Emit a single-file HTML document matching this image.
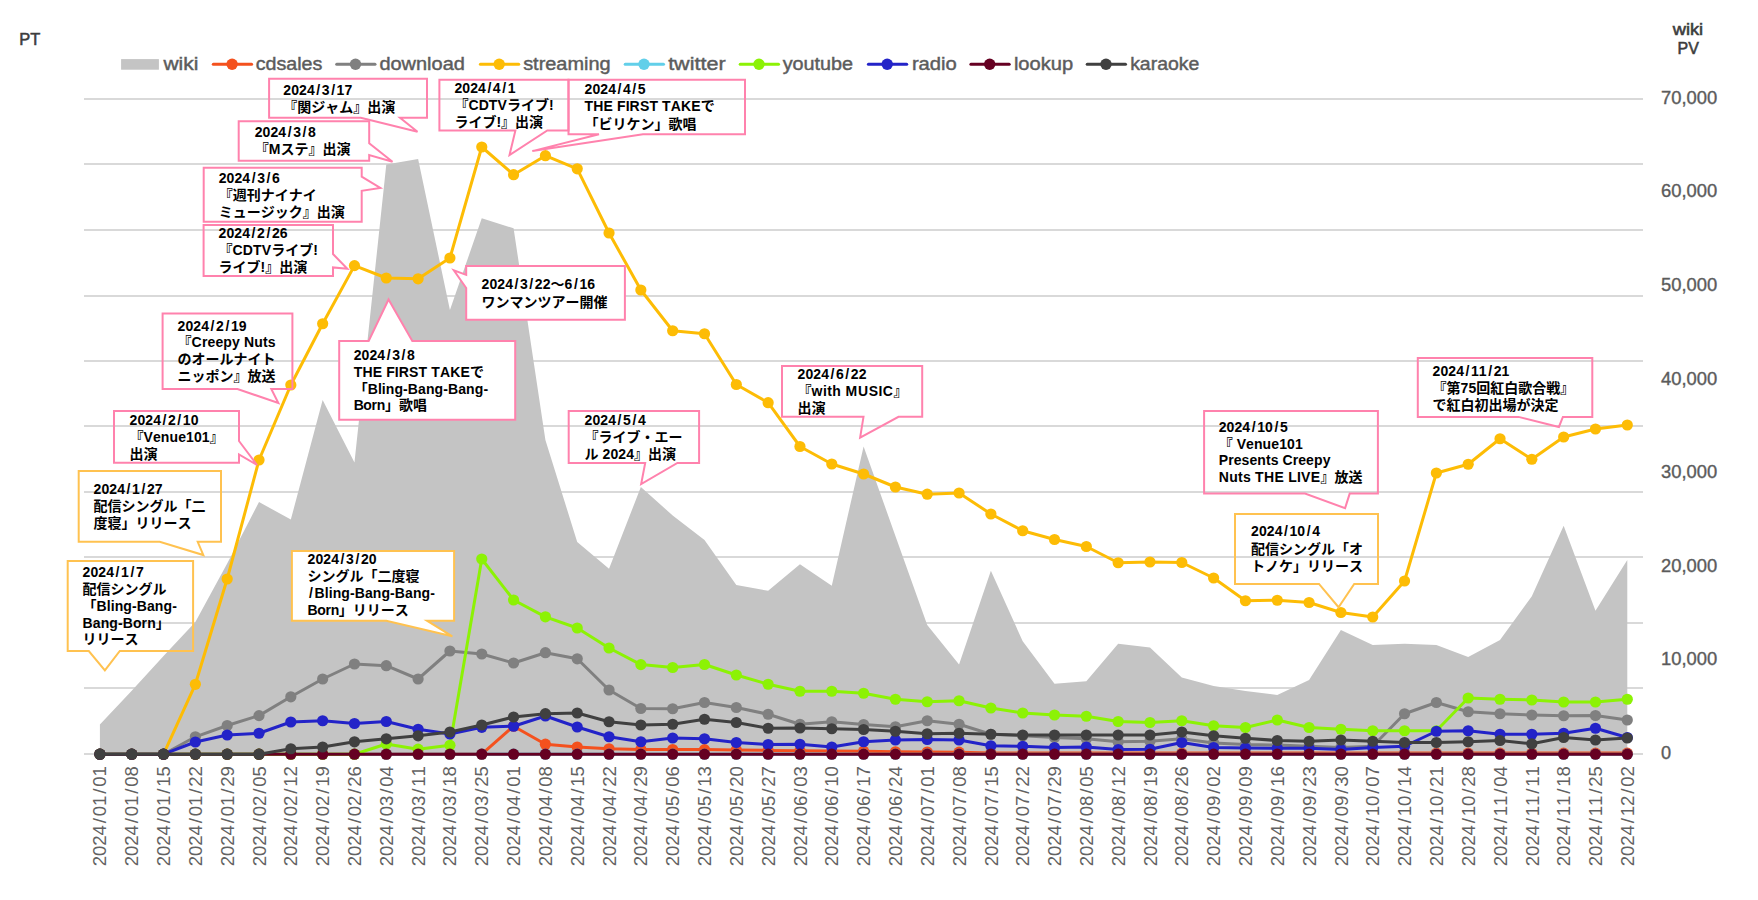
<!DOCTYPE html>
<html lang="ja"><head><meta charset="utf-8"><title>chart</title>
<style>html,body{margin:0;padding:0;background:#fff}body{width:1758px;height:900px;overflow:hidden}svg{display:block}
.lg,.ax,.xl{font-family:"Liberation Sans","Noto Sans CJK JP",sans-serif;fill:#5c5c5c}
.lg text{stroke:#5c5c5c;stroke-width:0.45px}.ax text{stroke:#595959;stroke-width:0.35px}
.cb{font-family:"Liberation Sans","Noto Sans CJK JP",sans-serif;font-weight:bold;font-size:14px;fill:#000}
</style></head><body>
<svg width="1758" height="900" viewBox="0 0 1758 900">
<rect width="1758" height="900" fill="#fff"/>
<g fill="#d9d9d9">
<rect x="84" y="98" width="1559" height="2"/>
<rect x="84" y="163" width="1559" height="2"/>
<rect x="84" y="229" width="1559" height="2"/>
<rect x="84" y="295" width="1559" height="2"/>
<rect x="84" y="360" width="1559" height="2"/>
<rect x="84" y="425" width="1559" height="2"/>
<rect x="84" y="491" width="1559" height="2"/>
<rect x="84" y="556" width="1559" height="2"/>
<rect x="84" y="622" width="1559" height="2"/>
<rect x="84" y="687" width="1559" height="2"/>
<rect x="84" y="753" width="1559" height="2"/>
</g>
<polygon fill="#c4c4c4" points="99.91,754.2 99.91,724.6 131.73,690.8 163.55,656 195.37,622 227.19,563.5 259.01,502 290.83,519.6 322.65,400 354.47,462.5 386.29,164.6 418.11,159.1 449.93,310 481.76,218.3 513.58,228.3 545.4,440 577.22,542 609.04,568.75 640.86,487 672.68,515.5 704.5,540 736.32,585 768.14,590.75 799.96,564.25 831.78,585.75 863.6,446.4 895.42,536 927.24,625 959.06,664.5 990.88,570.75 1022.7,641.25 1054.52,683.75 1086.34,681.25 1118.16,643.75 1149.98,647.5 1181.8,677.5 1213.62,686 1245.44,691 1277.27,695 1309.09,680 1340.91,630 1372.73,645 1404.55,643.75 1436.37,645 1468.19,657 1500.01,640 1531.83,596.25 1563.65,525.75 1595.47,610.75 1627.29,560 1627.29,754.2"/>
<g fill="#f4511e" stroke="none">
<polyline fill="none" stroke="#f4511e" stroke-width="3" stroke-linejoin="round" stroke-linecap="round" points="99.91,754.2 131.73,754.2 163.55,754.2 195.37,754.2 227.19,754.2 259.01,754.2 290.83,754.2 322.65,754.2 354.47,754.2 386.29,754.2 418.11,754.2 449.93,754.2 481.76,754.2 513.58,726.2 545.4,744.2 577.22,747 609.04,748.75 640.86,749.5 672.68,749.5 704.5,749.6 736.32,750 768.14,750.4 799.96,750.7 831.78,750.9 863.6,751.2 895.42,751.8 927.24,752 959.06,752.2 990.88,753.1 1022.7,753.1 1054.52,753.1 1086.34,753.1 1118.16,753.1 1149.98,753.1 1181.8,753.1 1213.62,753.1 1245.44,753.1 1277.27,753.1 1309.09,753.1 1340.91,753.1 1372.73,753.1 1404.55,753.1 1436.37,753.1 1468.19,753.1 1500.01,753.1 1531.83,753.1 1563.65,753.1 1595.47,753.1 1627.29,753.1"/>
<circle cx="99.91" cy="754.2" r="5.6"/><circle cx="131.73" cy="754.2" r="5.6"/><circle cx="163.55" cy="754.2" r="5.6"/><circle cx="195.37" cy="754.2" r="5.6"/><circle cx="227.19" cy="754.2" r="5.6"/><circle cx="259.01" cy="754.2" r="5.6"/><circle cx="290.83" cy="754.2" r="5.6"/><circle cx="322.65" cy="754.2" r="5.6"/><circle cx="354.47" cy="754.2" r="5.6"/><circle cx="386.29" cy="754.2" r="5.6"/><circle cx="418.11" cy="754.2" r="5.6"/><circle cx="449.93" cy="754.2" r="5.6"/><circle cx="481.76" cy="754.2" r="5.6"/><circle cx="513.58" cy="726.2" r="5.6"/><circle cx="545.4" cy="744.2" r="5.6"/><circle cx="577.22" cy="747" r="5.6"/><circle cx="609.04" cy="748.75" r="5.6"/><circle cx="640.86" cy="749.5" r="5.6"/><circle cx="672.68" cy="749.5" r="5.6"/><circle cx="704.5" cy="749.6" r="5.6"/><circle cx="736.32" cy="750" r="5.6"/><circle cx="768.14" cy="750.4" r="5.6"/><circle cx="799.96" cy="750.7" r="5.6"/><circle cx="831.78" cy="750.9" r="5.6"/><circle cx="863.6" cy="751.2" r="5.6"/><circle cx="895.42" cy="751.8" r="5.6"/><circle cx="927.24" cy="752" r="5.6"/><circle cx="959.06" cy="752.2" r="5.6"/><circle cx="990.88" cy="753.1" r="5.6"/><circle cx="1022.7" cy="753.1" r="5.6"/><circle cx="1054.52" cy="753.1" r="5.6"/><circle cx="1086.34" cy="753.1" r="5.6"/><circle cx="1118.16" cy="753.1" r="5.6"/><circle cx="1149.98" cy="753.1" r="5.6"/><circle cx="1181.8" cy="753.1" r="5.6"/><circle cx="1213.62" cy="753.1" r="5.6"/><circle cx="1245.44" cy="753.1" r="5.6"/><circle cx="1277.27" cy="753.1" r="5.6"/><circle cx="1309.09" cy="753.1" r="5.6"/><circle cx="1340.91" cy="753.1" r="5.6"/><circle cx="1372.73" cy="753.1" r="5.6"/><circle cx="1404.55" cy="753.1" r="5.6"/><circle cx="1436.37" cy="753.1" r="5.6"/><circle cx="1468.19" cy="753.1" r="5.6"/><circle cx="1500.01" cy="753.1" r="5.6"/><circle cx="1531.83" cy="753.1" r="5.6"/><circle cx="1563.65" cy="753.1" r="5.6"/><circle cx="1595.47" cy="753.1" r="5.6"/><circle cx="1627.29" cy="753.1" r="5.6"/>
</g>
<g fill="#808080" stroke="none">
<polyline fill="none" stroke="#808080" stroke-width="3" stroke-linejoin="round" stroke-linecap="round" points="99.91,754.2 131.73,754.2 163.55,754.2 195.37,736.8 227.19,725.5 259.01,715.6 290.83,696.8 322.65,679 354.47,664 386.29,665.7 418.11,679 449.93,651 481.76,654 513.58,663 545.4,652.7 577.22,658.8 609.04,690 640.86,708.5 672.68,708.75 704.5,702.5 736.32,707.5 768.14,714.25 799.96,724.25 831.78,721.75 863.6,724.5 895.42,726.75 927.24,720.75 959.06,724.25 990.88,734.25 1022.7,735.75 1054.52,737.5 1086.34,738.75 1118.16,741.75 1149.98,741.25 1181.8,738.75 1213.62,743 1245.44,744.5 1277.27,745 1309.09,746.25 1340.91,747.5 1372.73,746.25 1404.55,713.75 1436.37,702.5 1468.19,711.75 1500.01,713.75 1531.83,715 1563.65,715.75 1595.47,715.5 1627.29,720"/>
<circle cx="99.91" cy="754.2" r="5.6"/><circle cx="131.73" cy="754.2" r="5.6"/><circle cx="163.55" cy="754.2" r="5.6"/><circle cx="195.37" cy="736.8" r="5.6"/><circle cx="227.19" cy="725.5" r="5.6"/><circle cx="259.01" cy="715.6" r="5.6"/><circle cx="290.83" cy="696.8" r="5.6"/><circle cx="322.65" cy="679" r="5.6"/><circle cx="354.47" cy="664" r="5.6"/><circle cx="386.29" cy="665.7" r="5.6"/><circle cx="418.11" cy="679" r="5.6"/><circle cx="449.93" cy="651" r="5.6"/><circle cx="481.76" cy="654" r="5.6"/><circle cx="513.58" cy="663" r="5.6"/><circle cx="545.4" cy="652.7" r="5.6"/><circle cx="577.22" cy="658.8" r="5.6"/><circle cx="609.04" cy="690" r="5.6"/><circle cx="640.86" cy="708.5" r="5.6"/><circle cx="672.68" cy="708.75" r="5.6"/><circle cx="704.5" cy="702.5" r="5.6"/><circle cx="736.32" cy="707.5" r="5.6"/><circle cx="768.14" cy="714.25" r="5.6"/><circle cx="799.96" cy="724.25" r="5.6"/><circle cx="831.78" cy="721.75" r="5.6"/><circle cx="863.6" cy="724.5" r="5.6"/><circle cx="895.42" cy="726.75" r="5.6"/><circle cx="927.24" cy="720.75" r="5.6"/><circle cx="959.06" cy="724.25" r="5.6"/><circle cx="990.88" cy="734.25" r="5.6"/><circle cx="1022.7" cy="735.75" r="5.6"/><circle cx="1054.52" cy="737.5" r="5.6"/><circle cx="1086.34" cy="738.75" r="5.6"/><circle cx="1118.16" cy="741.75" r="5.6"/><circle cx="1149.98" cy="741.25" r="5.6"/><circle cx="1181.8" cy="738.75" r="5.6"/><circle cx="1213.62" cy="743" r="5.6"/><circle cx="1245.44" cy="744.5" r="5.6"/><circle cx="1277.27" cy="745" r="5.6"/><circle cx="1309.09" cy="746.25" r="5.6"/><circle cx="1340.91" cy="747.5" r="5.6"/><circle cx="1372.73" cy="746.25" r="5.6"/><circle cx="1404.55" cy="713.75" r="5.6"/><circle cx="1436.37" cy="702.5" r="5.6"/><circle cx="1468.19" cy="711.75" r="5.6"/><circle cx="1500.01" cy="713.75" r="5.6"/><circle cx="1531.83" cy="715" r="5.6"/><circle cx="1563.65" cy="715.75" r="5.6"/><circle cx="1595.47" cy="715.5" r="5.6"/><circle cx="1627.29" cy="720" r="5.6"/>
</g>
<g fill="#fdbc05" stroke="none">
<polyline fill="none" stroke="#fdbc05" stroke-width="3" stroke-linejoin="round" stroke-linecap="round" points="99.91,754.2 131.73,754.2 163.55,754.2 195.37,684.3 227.19,579 259.01,460 290.83,385 322.65,323.75 354.47,265.6 386.29,278 418.11,278.8 449.93,258 481.76,147 513.58,174.7 545.4,155.7 577.22,168.8 609.04,233 640.86,290 672.68,330.75 704.5,333.75 736.32,384.5 768.14,402.7 799.96,446.5 831.78,464 863.6,474 895.42,487 927.24,494.2 959.06,493 990.88,514 1022.7,530.75 1054.52,539.5 1086.34,546.5 1118.16,562.75 1149.98,562 1181.8,562.5 1213.62,578 1245.44,600.75 1277.27,600.25 1309.09,602.5 1340.91,612.5 1372.73,617 1404.55,581 1436.37,473 1468.19,464.25 1500.01,438.75 1531.83,459.25 1563.65,437 1595.47,429 1627.29,425"/>
<circle cx="99.91" cy="754.2" r="5.6"/><circle cx="131.73" cy="754.2" r="5.6"/><circle cx="163.55" cy="754.2" r="5.6"/><circle cx="195.37" cy="684.3" r="5.6"/><circle cx="227.19" cy="579" r="5.6"/><circle cx="259.01" cy="460" r="5.6"/><circle cx="290.83" cy="385" r="5.6"/><circle cx="322.65" cy="323.75" r="5.6"/><circle cx="354.47" cy="265.6" r="5.6"/><circle cx="386.29" cy="278" r="5.6"/><circle cx="418.11" cy="278.8" r="5.6"/><circle cx="449.93" cy="258" r="5.6"/><circle cx="481.76" cy="147" r="5.6"/><circle cx="513.58" cy="174.7" r="5.6"/><circle cx="545.4" cy="155.7" r="5.6"/><circle cx="577.22" cy="168.8" r="5.6"/><circle cx="609.04" cy="233" r="5.6"/><circle cx="640.86" cy="290" r="5.6"/><circle cx="672.68" cy="330.75" r="5.6"/><circle cx="704.5" cy="333.75" r="5.6"/><circle cx="736.32" cy="384.5" r="5.6"/><circle cx="768.14" cy="402.7" r="5.6"/><circle cx="799.96" cy="446.5" r="5.6"/><circle cx="831.78" cy="464" r="5.6"/><circle cx="863.6" cy="474" r="5.6"/><circle cx="895.42" cy="487" r="5.6"/><circle cx="927.24" cy="494.2" r="5.6"/><circle cx="959.06" cy="493" r="5.6"/><circle cx="990.88" cy="514" r="5.6"/><circle cx="1022.7" cy="530.75" r="5.6"/><circle cx="1054.52" cy="539.5" r="5.6"/><circle cx="1086.34" cy="546.5" r="5.6"/><circle cx="1118.16" cy="562.75" r="5.6"/><circle cx="1149.98" cy="562" r="5.6"/><circle cx="1181.8" cy="562.5" r="5.6"/><circle cx="1213.62" cy="578" r="5.6"/><circle cx="1245.44" cy="600.75" r="5.6"/><circle cx="1277.27" cy="600.25" r="5.6"/><circle cx="1309.09" cy="602.5" r="5.6"/><circle cx="1340.91" cy="612.5" r="5.6"/><circle cx="1372.73" cy="617" r="5.6"/><circle cx="1404.55" cy="581" r="5.6"/><circle cx="1436.37" cy="473" r="5.6"/><circle cx="1468.19" cy="464.25" r="5.6"/><circle cx="1500.01" cy="438.75" r="5.6"/><circle cx="1531.83" cy="459.25" r="5.6"/><circle cx="1563.65" cy="437" r="5.6"/><circle cx="1595.47" cy="429" r="5.6"/><circle cx="1627.29" cy="425" r="5.6"/>
</g>
<g fill="#62cfe9" stroke="none">
<polyline fill="none" stroke="#62cfe9" stroke-width="3" stroke-linejoin="round" stroke-linecap="round" points="99.91,754.2 131.73,754.2 163.55,754.2 195.37,754.2 227.19,754.2 259.01,754.2 290.83,754.2 322.65,754.2 354.47,754.2 386.29,754.2 418.11,754.2 449.93,754.2 481.76,754.2 513.58,754.2 545.4,754.2 577.22,754.2 609.04,754.2 640.86,754.2 672.68,754.2 704.5,754.2 736.32,754.2 768.14,754.2 799.96,754.2 831.78,754.2 863.6,754.2 895.42,754.2 927.24,754.2 959.06,754.2 990.88,754.2 1022.7,754.2 1054.52,754.2 1086.34,754.2 1118.16,754.2 1149.98,754.2 1181.8,754.2 1213.62,754.2 1245.44,754.2 1277.27,754.2 1309.09,754.2 1340.91,754.2 1372.73,754.2 1404.55,754.2 1436.37,754.2 1468.19,754.2 1500.01,754.2 1531.83,754.2 1563.65,754.2 1595.47,754.2 1627.29,754.2"/>
<circle cx="99.91" cy="754.2" r="5.6"/><circle cx="131.73" cy="754.2" r="5.6"/><circle cx="163.55" cy="754.2" r="5.6"/><circle cx="195.37" cy="754.2" r="5.6"/><circle cx="227.19" cy="754.2" r="5.6"/><circle cx="259.01" cy="754.2" r="5.6"/><circle cx="290.83" cy="754.2" r="5.6"/><circle cx="322.65" cy="754.2" r="5.6"/><circle cx="354.47" cy="754.2" r="5.6"/><circle cx="386.29" cy="754.2" r="5.6"/><circle cx="418.11" cy="754.2" r="5.6"/><circle cx="449.93" cy="754.2" r="5.6"/><circle cx="481.76" cy="754.2" r="5.6"/><circle cx="513.58" cy="754.2" r="5.6"/><circle cx="545.4" cy="754.2" r="5.6"/><circle cx="577.22" cy="754.2" r="5.6"/><circle cx="609.04" cy="754.2" r="5.6"/><circle cx="640.86" cy="754.2" r="5.6"/><circle cx="672.68" cy="754.2" r="5.6"/><circle cx="704.5" cy="754.2" r="5.6"/><circle cx="736.32" cy="754.2" r="5.6"/><circle cx="768.14" cy="754.2" r="5.6"/><circle cx="799.96" cy="754.2" r="5.6"/><circle cx="831.78" cy="754.2" r="5.6"/><circle cx="863.6" cy="754.2" r="5.6"/><circle cx="895.42" cy="754.2" r="5.6"/><circle cx="927.24" cy="754.2" r="5.6"/><circle cx="959.06" cy="754.2" r="5.6"/><circle cx="990.88" cy="754.2" r="5.6"/><circle cx="1022.7" cy="754.2" r="5.6"/><circle cx="1054.52" cy="754.2" r="5.6"/><circle cx="1086.34" cy="754.2" r="5.6"/><circle cx="1118.16" cy="754.2" r="5.6"/><circle cx="1149.98" cy="754.2" r="5.6"/><circle cx="1181.8" cy="754.2" r="5.6"/><circle cx="1213.62" cy="754.2" r="5.6"/><circle cx="1245.44" cy="754.2" r="5.6"/><circle cx="1277.27" cy="754.2" r="5.6"/><circle cx="1309.09" cy="754.2" r="5.6"/><circle cx="1340.91" cy="754.2" r="5.6"/><circle cx="1372.73" cy="754.2" r="5.6"/><circle cx="1404.55" cy="754.2" r="5.6"/><circle cx="1436.37" cy="754.2" r="5.6"/><circle cx="1468.19" cy="754.2" r="5.6"/><circle cx="1500.01" cy="754.2" r="5.6"/><circle cx="1531.83" cy="754.2" r="5.6"/><circle cx="1563.65" cy="754.2" r="5.6"/><circle cx="1595.47" cy="754.2" r="5.6"/><circle cx="1627.29" cy="754.2" r="5.6"/>
</g>
<g fill="#8cf205" stroke="none">
<polyline fill="none" stroke="#8cf205" stroke-width="3" stroke-linejoin="round" stroke-linecap="round" points="99.91,754.2 131.73,754.2 163.55,754.2 195.37,754.2 227.19,754.2 259.01,754.2 290.83,754.2 322.65,754.2 354.47,754.2 386.29,744 418.11,749.2 449.93,745.3 481.76,559 513.58,600 545.4,616.8 577.22,628 609.04,648 640.86,664.6 672.68,667.5 704.5,664.5 736.32,675 768.14,684.25 799.96,691.25 831.78,691.25 863.6,693.25 895.42,699.25 927.24,701.75 959.06,700.75 990.88,708 1022.7,713 1054.52,715 1086.34,716.25 1118.16,721.5 1149.98,722.5 1181.8,720.75 1213.62,725.75 1245.44,727.5 1277.27,720 1309.09,727.5 1340.91,729.25 1372.73,730.75 1404.55,730.75 1436.37,730.75 1468.19,698 1500.01,699.25 1531.83,700 1563.65,702 1595.47,702 1627.29,699.25"/>
<circle cx="99.91" cy="754.2" r="5.6"/><circle cx="131.73" cy="754.2" r="5.6"/><circle cx="163.55" cy="754.2" r="5.6"/><circle cx="195.37" cy="754.2" r="5.6"/><circle cx="227.19" cy="754.2" r="5.6"/><circle cx="259.01" cy="754.2" r="5.6"/><circle cx="290.83" cy="754.2" r="5.6"/><circle cx="322.65" cy="754.2" r="5.6"/><circle cx="354.47" cy="754.2" r="5.6"/><circle cx="386.29" cy="744" r="5.6"/><circle cx="418.11" cy="749.2" r="5.6"/><circle cx="449.93" cy="745.3" r="5.6"/><circle cx="481.76" cy="559" r="5.6"/><circle cx="513.58" cy="600" r="5.6"/><circle cx="545.4" cy="616.8" r="5.6"/><circle cx="577.22" cy="628" r="5.6"/><circle cx="609.04" cy="648" r="5.6"/><circle cx="640.86" cy="664.6" r="5.6"/><circle cx="672.68" cy="667.5" r="5.6"/><circle cx="704.5" cy="664.5" r="5.6"/><circle cx="736.32" cy="675" r="5.6"/><circle cx="768.14" cy="684.25" r="5.6"/><circle cx="799.96" cy="691.25" r="5.6"/><circle cx="831.78" cy="691.25" r="5.6"/><circle cx="863.6" cy="693.25" r="5.6"/><circle cx="895.42" cy="699.25" r="5.6"/><circle cx="927.24" cy="701.75" r="5.6"/><circle cx="959.06" cy="700.75" r="5.6"/><circle cx="990.88" cy="708" r="5.6"/><circle cx="1022.7" cy="713" r="5.6"/><circle cx="1054.52" cy="715" r="5.6"/><circle cx="1086.34" cy="716.25" r="5.6"/><circle cx="1118.16" cy="721.5" r="5.6"/><circle cx="1149.98" cy="722.5" r="5.6"/><circle cx="1181.8" cy="720.75" r="5.6"/><circle cx="1213.62" cy="725.75" r="5.6"/><circle cx="1245.44" cy="727.5" r="5.6"/><circle cx="1277.27" cy="720" r="5.6"/><circle cx="1309.09" cy="727.5" r="5.6"/><circle cx="1340.91" cy="729.25" r="5.6"/><circle cx="1372.73" cy="730.75" r="5.6"/><circle cx="1404.55" cy="730.75" r="5.6"/><circle cx="1436.37" cy="730.75" r="5.6"/><circle cx="1468.19" cy="698" r="5.6"/><circle cx="1500.01" cy="699.25" r="5.6"/><circle cx="1531.83" cy="700" r="5.6"/><circle cx="1563.65" cy="702" r="5.6"/><circle cx="1595.47" cy="702" r="5.6"/><circle cx="1627.29" cy="699.25" r="5.6"/>
</g>
<g fill="#2323c8" stroke="none">
<polyline fill="none" stroke="#2323c8" stroke-width="3" stroke-linejoin="round" stroke-linecap="round" points="99.91,754.2 131.73,754.2 163.55,754.2 195.37,742 227.19,735 259.01,733.25 290.83,722 322.65,720.75 354.47,723.5 386.29,721.5 418.11,729.3 449.93,734 481.76,727.3 513.58,726.2 545.4,716 577.22,727 609.04,736.75 640.86,741.75 672.68,738 704.5,738.75 736.32,742.5 768.14,744.5 799.96,744.25 831.78,747 863.6,741.75 895.42,740 927.24,739.5 959.06,740 990.88,745.75 1022.7,746.25 1054.52,747.5 1086.34,747 1118.16,749.5 1149.98,749.25 1181.8,742.5 1213.62,747.5 1245.44,748 1277.27,748.25 1309.09,748.25 1340.91,749.5 1372.73,747.5 1404.55,746.25 1436.37,731.25 1468.19,730.75 1500.01,734.25 1531.83,734.25 1563.65,733.25 1595.47,728.25 1627.29,737.5"/>
<circle cx="99.91" cy="754.2" r="5.6"/><circle cx="131.73" cy="754.2" r="5.6"/><circle cx="163.55" cy="754.2" r="5.6"/><circle cx="195.37" cy="742" r="5.6"/><circle cx="227.19" cy="735" r="5.6"/><circle cx="259.01" cy="733.25" r="5.6"/><circle cx="290.83" cy="722" r="5.6"/><circle cx="322.65" cy="720.75" r="5.6"/><circle cx="354.47" cy="723.5" r="5.6"/><circle cx="386.29" cy="721.5" r="5.6"/><circle cx="418.11" cy="729.3" r="5.6"/><circle cx="449.93" cy="734" r="5.6"/><circle cx="481.76" cy="727.3" r="5.6"/><circle cx="513.58" cy="726.2" r="5.6"/><circle cx="545.4" cy="716" r="5.6"/><circle cx="577.22" cy="727" r="5.6"/><circle cx="609.04" cy="736.75" r="5.6"/><circle cx="640.86" cy="741.75" r="5.6"/><circle cx="672.68" cy="738" r="5.6"/><circle cx="704.5" cy="738.75" r="5.6"/><circle cx="736.32" cy="742.5" r="5.6"/><circle cx="768.14" cy="744.5" r="5.6"/><circle cx="799.96" cy="744.25" r="5.6"/><circle cx="831.78" cy="747" r="5.6"/><circle cx="863.6" cy="741.75" r="5.6"/><circle cx="895.42" cy="740" r="5.6"/><circle cx="927.24" cy="739.5" r="5.6"/><circle cx="959.06" cy="740" r="5.6"/><circle cx="990.88" cy="745.75" r="5.6"/><circle cx="1022.7" cy="746.25" r="5.6"/><circle cx="1054.52" cy="747.5" r="5.6"/><circle cx="1086.34" cy="747" r="5.6"/><circle cx="1118.16" cy="749.5" r="5.6"/><circle cx="1149.98" cy="749.25" r="5.6"/><circle cx="1181.8" cy="742.5" r="5.6"/><circle cx="1213.62" cy="747.5" r="5.6"/><circle cx="1245.44" cy="748" r="5.6"/><circle cx="1277.27" cy="748.25" r="5.6"/><circle cx="1309.09" cy="748.25" r="5.6"/><circle cx="1340.91" cy="749.5" r="5.6"/><circle cx="1372.73" cy="747.5" r="5.6"/><circle cx="1404.55" cy="746.25" r="5.6"/><circle cx="1436.37" cy="731.25" r="5.6"/><circle cx="1468.19" cy="730.75" r="5.6"/><circle cx="1500.01" cy="734.25" r="5.6"/><circle cx="1531.83" cy="734.25" r="5.6"/><circle cx="1563.65" cy="733.25" r="5.6"/><circle cx="1595.47" cy="728.25" r="5.6"/><circle cx="1627.29" cy="737.5" r="5.6"/>
</g>
<g fill="#660022" stroke="none">
<polyline fill="none" stroke="#660022" stroke-width="3" stroke-linejoin="round" stroke-linecap="round" points="99.91,754.2 131.73,754.2 163.55,754.2 195.37,754.2 227.19,754.2 259.01,754.2 290.83,754.2 322.65,754.2 354.47,754.2 386.29,754.2 418.11,754.2 449.93,754.2 481.76,754.2 513.58,754.2 545.4,754.2 577.22,754.2 609.04,754.2 640.86,754.2 672.68,754.2 704.5,754.2 736.32,754.2 768.14,754.2 799.96,754.2 831.78,754.2 863.6,754.2 895.42,754.2 927.24,754.2 959.06,754.2 990.88,754.2 1022.7,754.2 1054.52,754.2 1086.34,754.2 1118.16,754.2 1149.98,754.2 1181.8,754.2 1213.62,754.2 1245.44,754.2 1277.27,754.2 1309.09,754.2 1340.91,754.2 1372.73,754.2 1404.55,754.2 1436.37,754.2 1468.19,754.2 1500.01,754.2 1531.83,754.2 1563.65,754.2 1595.47,754.2 1627.29,754.2"/>
<circle cx="99.91" cy="754.2" r="5.6"/><circle cx="131.73" cy="754.2" r="5.6"/><circle cx="163.55" cy="754.2" r="5.6"/><circle cx="195.37" cy="754.2" r="5.6"/><circle cx="227.19" cy="754.2" r="5.6"/><circle cx="259.01" cy="754.2" r="5.6"/><circle cx="290.83" cy="754.2" r="5.6"/><circle cx="322.65" cy="754.2" r="5.6"/><circle cx="354.47" cy="754.2" r="5.6"/><circle cx="386.29" cy="754.2" r="5.6"/><circle cx="418.11" cy="754.2" r="5.6"/><circle cx="449.93" cy="754.2" r="5.6"/><circle cx="481.76" cy="754.2" r="5.6"/><circle cx="513.58" cy="754.2" r="5.6"/><circle cx="545.4" cy="754.2" r="5.6"/><circle cx="577.22" cy="754.2" r="5.6"/><circle cx="609.04" cy="754.2" r="5.6"/><circle cx="640.86" cy="754.2" r="5.6"/><circle cx="672.68" cy="754.2" r="5.6"/><circle cx="704.5" cy="754.2" r="5.6"/><circle cx="736.32" cy="754.2" r="5.6"/><circle cx="768.14" cy="754.2" r="5.6"/><circle cx="799.96" cy="754.2" r="5.6"/><circle cx="831.78" cy="754.2" r="5.6"/><circle cx="863.6" cy="754.2" r="5.6"/><circle cx="895.42" cy="754.2" r="5.6"/><circle cx="927.24" cy="754.2" r="5.6"/><circle cx="959.06" cy="754.2" r="5.6"/><circle cx="990.88" cy="754.2" r="5.6"/><circle cx="1022.7" cy="754.2" r="5.6"/><circle cx="1054.52" cy="754.2" r="5.6"/><circle cx="1086.34" cy="754.2" r="5.6"/><circle cx="1118.16" cy="754.2" r="5.6"/><circle cx="1149.98" cy="754.2" r="5.6"/><circle cx="1181.8" cy="754.2" r="5.6"/><circle cx="1213.62" cy="754.2" r="5.6"/><circle cx="1245.44" cy="754.2" r="5.6"/><circle cx="1277.27" cy="754.2" r="5.6"/><circle cx="1309.09" cy="754.2" r="5.6"/><circle cx="1340.91" cy="754.2" r="5.6"/><circle cx="1372.73" cy="754.2" r="5.6"/><circle cx="1404.55" cy="754.2" r="5.6"/><circle cx="1436.37" cy="754.2" r="5.6"/><circle cx="1468.19" cy="754.2" r="5.6"/><circle cx="1500.01" cy="754.2" r="5.6"/><circle cx="1531.83" cy="754.2" r="5.6"/><circle cx="1563.65" cy="754.2" r="5.6"/><circle cx="1595.47" cy="754.2" r="5.6"/><circle cx="1627.29" cy="754.2" r="5.6"/>
</g>
<g fill="#404040" stroke="none">
<polyline fill="none" stroke="#404040" stroke-width="3" stroke-linejoin="round" stroke-linecap="round" points="99.91,754.2 131.73,754.2 163.55,754.2 195.37,754.2 227.19,754.2 259.01,754.2 290.83,748.75 322.65,747 354.47,741.8 386.29,738.8 418.11,735.8 449.93,732 481.76,725 513.58,717 545.4,713.7 577.22,713 609.04,721.75 640.86,725 672.68,724.25 704.5,719.25 736.32,722.5 768.14,728.25 799.96,728 831.78,728.75 863.6,729.5 895.42,731.25 927.24,733.75 959.06,733.25 990.88,734.25 1022.7,735 1054.52,735 1086.34,735 1118.16,735 1149.98,735 1181.8,732 1213.62,735.75 1245.44,738.25 1277.27,740.5 1309.09,741.25 1340.91,740 1372.73,741.25 1404.55,742.5 1436.37,742.5 1468.19,741.75 1500.01,740.5 1531.83,743.75 1563.65,737.5 1595.47,740 1627.29,738"/>
<circle cx="99.91" cy="754.2" r="5.6"/><circle cx="131.73" cy="754.2" r="5.6"/><circle cx="163.55" cy="754.2" r="5.6"/><circle cx="195.37" cy="754.2" r="5.6"/><circle cx="227.19" cy="754.2" r="5.6"/><circle cx="259.01" cy="754.2" r="5.6"/><circle cx="290.83" cy="748.75" r="5.6"/><circle cx="322.65" cy="747" r="5.6"/><circle cx="354.47" cy="741.8" r="5.6"/><circle cx="386.29" cy="738.8" r="5.6"/><circle cx="418.11" cy="735.8" r="5.6"/><circle cx="449.93" cy="732" r="5.6"/><circle cx="481.76" cy="725" r="5.6"/><circle cx="513.58" cy="717" r="5.6"/><circle cx="545.4" cy="713.7" r="5.6"/><circle cx="577.22" cy="713" r="5.6"/><circle cx="609.04" cy="721.75" r="5.6"/><circle cx="640.86" cy="725" r="5.6"/><circle cx="672.68" cy="724.25" r="5.6"/><circle cx="704.5" cy="719.25" r="5.6"/><circle cx="736.32" cy="722.5" r="5.6"/><circle cx="768.14" cy="728.25" r="5.6"/><circle cx="799.96" cy="728" r="5.6"/><circle cx="831.78" cy="728.75" r="5.6"/><circle cx="863.6" cy="729.5" r="5.6"/><circle cx="895.42" cy="731.25" r="5.6"/><circle cx="927.24" cy="733.75" r="5.6"/><circle cx="959.06" cy="733.25" r="5.6"/><circle cx="990.88" cy="734.25" r="5.6"/><circle cx="1022.7" cy="735" r="5.6"/><circle cx="1054.52" cy="735" r="5.6"/><circle cx="1086.34" cy="735" r="5.6"/><circle cx="1118.16" cy="735" r="5.6"/><circle cx="1149.98" cy="735" r="5.6"/><circle cx="1181.8" cy="732" r="5.6"/><circle cx="1213.62" cy="735.75" r="5.6"/><circle cx="1245.44" cy="738.25" r="5.6"/><circle cx="1277.27" cy="740.5" r="5.6"/><circle cx="1309.09" cy="741.25" r="5.6"/><circle cx="1340.91" cy="740" r="5.6"/><circle cx="1372.73" cy="741.25" r="5.6"/><circle cx="1404.55" cy="742.5" r="5.6"/><circle cx="1436.37" cy="742.5" r="5.6"/><circle cx="1468.19" cy="741.75" r="5.6"/><circle cx="1500.01" cy="740.5" r="5.6"/><circle cx="1531.83" cy="743.75" r="5.6"/><circle cx="1563.65" cy="737.5" r="5.6"/><circle cx="1595.47" cy="740" r="5.6"/><circle cx="1627.29" cy="738" r="5.6"/>
</g>
<g>
<path d="M269.1 78.8 L427 78.8 L427 117.7 L400 117.7 L417.5 131.7 L360.8 117.7 L269.1 117.7 Z" fill="none" stroke="#ff82ad" stroke-width="2" stroke-linejoin="miter"/>
<text class="cb" y="94.7" x="283.3 291.18 299.06 306.94 316.32 321.77 331.15 336.6 344.48">2024/3/17</text>
<text class="cb" y="111.7" x="283.3 297.3 311.3 325.3 339.3 353.3 367.3 381.3">『関ジャム』出演</text>
<path d="M238.7 121.3 L369.2 121.3 L369.2 143.3 L392.5 161.7 L369.2 155 L369.2 160.8 L238.7 160.8 Z" fill="none" stroke="#ff82ad" stroke-width="2" stroke-linejoin="miter"/>
<text class="cb" y="136.7" x="254.7 262.58 270.46 278.34 287.72 293.17 302.55 308">2024/3/8</text>
<text class="cb" y="153.5" x="254.7 268.7 280.5 294.5 308.5 322.5 336.5">『Mステ』出演</text>
<path d="M203.7 167.8 L361.7 167.8 L361.7 176.7 L380.32 188.02 L361.7 190.8 L361.7 221.7 L203.7 221.7 Z" fill="none" stroke="#ff82ad" stroke-width="2" stroke-linejoin="miter"/>
<text class="cb" y="182.5" x="218.7 226.58 234.46 242.34 251.72 257.17 266.55 272">2024/3/6</text>
<text class="cb" y="199.6" x="218.7 232.7 246.7 260.7 274.7 288.7 302.7">『週刊ナイナイ</text>
<text class="cb" y="216.7" x="218.7 232.7 246.7 260.7 274.7 288.7 302.7 316.7 330.7">ミュージック』出演</text>
<path d="M203.6 225 L333 225 L333 254 L347.34 268.78 L333 267.4 L333 276 L203.6 276 Z" fill="none" stroke="#ff82ad" stroke-width="2" stroke-linejoin="miter"/>
<text class="cb" y="238" x="218.6 226.48 234.36 242.24 251.62 257.07 266.45 271.9 279.78">2024/2/26</text>
<text class="cb" y="255" x="218.6 232.6 242.83 253.06 261.72 271.17 285.17 299.17 313.17">『CDTVライブ!</text>
<text class="cb" y="272" x="218.6 232.6 246.6 260.6 265.32 279.32 293.32">ライブ!』出演</text>
<path d="M162.6 313.6 L292.4 313.6 L292.4 389 L271.3 389 L278.35 402.99 L237.5 389 L162.6 389 Z" fill="none" stroke="#ff82ad" stroke-width="2" stroke-linejoin="miter"/>
<text class="cb" y="330.6" x="177.6 185.48 193.36 201.24 210.62 216.07 225.45 230.9 238.78">2024/2/19</text>
<text class="cb" y="347.4" x="177.6 191.6 201.9 207.45 215.38 223.31 232.02 239.95 243.91 254.21 262.92 267.67">『Creepy Nuts</text>
<text class="cb" y="364.4" x="177.6 191.6 205.6 219.6 233.6 247.6 261.6">のオールナイト</text>
<text class="cb" y="380.8" x="177.6 191.6 205.6 219.6 233.6 247.6 261.6">ニッポン』放送</text>
<path d="M114 411 L239 411 L239 441 L257 465 L239 454.5 L239 462.8 L114 462.8 Z" fill="none" stroke="#ff82ad" stroke-width="2" stroke-linejoin="miter"/>
<text class="cb" y="424.6" x="129.5 137.38 145.26 153.14 162.52 167.97 177.35 182.8 190.68">2024/2/10</text>
<text class="cb" y="442" x="129.5 143.5 152.95 160.83 169.48 178.14 186.02 193.9 201.78 209.66">『Venue101』</text>
<text class="cb" y="459.4" x="129.5 143.5">出演</text>
<path d="M78.7 471 L221 471 L221 541.8 L197.7 541.8 L203.36 555.06 L159.7 541.8 L78.7 541.8 Z" fill="none" stroke="#ffc250" stroke-width="2" stroke-linejoin="miter"/>
<text class="cb" y="494" x="93.6 101.48 109.36 117.24 126.62 132.07 141.45 146.9 154.78">2024/1/27</text>
<text class="cb" y="511.2" x="93.6 107.6 121.6 135.6 149.6 163.6 177.6 191.6">配信シングル「二</text>
<text class="cb" y="528.3" x="93.6 107.6 121.6 135.6 149.6 163.6 177.6">度寝」リリース</text>
<path d="M67.7 561 L193.1 561 L193.1 651 L119.8 651 L104.89 670.36 L88.8 651 L67.7 651 Z" fill="none" stroke="#ffc250" stroke-width="2" stroke-linejoin="miter"/>
<text class="cb" y="576.7" x="82.6 90.48 98.36 106.24 115.62 121.07 130.45 135.9">2024/1/7</text>
<text class="cb" y="593.7" x="82.6 96.6 110.6 124.6 138.6 152.6">配信シングル</text>
<text class="cb" y="610.8" x="82.6 96.6 106.83 110.77 114.7 123.36 132.01 136.73 146.96 154.84 163.5 172.15">「Bling-Bang-</text>
<text class="cb" y="627.5" x="82.6 92.83 100.71 109.37 118.02 122.74 132.97 141.62 147.14 155.79">Bang-Born」</text>
<text class="cb" y="644.2" x="82.6 96.6 110.6 124.6">リリース</text>
<path d="M291.9 550.9 L454.1 550.9 L454.1 620.7 L427 620.7 L452.3 636.3 L386.3 620.7 L291.9 620.7 Z" fill="#fff" stroke="#ffc250" stroke-width="2" stroke-linejoin="miter"/>
<text class="cb" y="564.4" x="307.6 315.48 323.36 331.24 340.62 346.07 355.45 360.9 368.78">2024/3/20</text>
<text class="cb" y="581.3" x="307.6 321.6 335.6 349.6 363.6 377.6 391.6 405.6">シングル「二度寝</text>
<text class="cb" y="598.2" x="309.1 314.55 324.78 328.72 332.65 341.31 349.96 354.68 364.91 372.79 381.45 390.1 394.82 405.05 412.93 421.59 430.24">/Bling-Bang-Bang-</text>
<text class="cb" y="614.8" x="307.6 317.26 325.43 330.63 338.8 352.8 366.8 380.8 394.8">Born」リリース</text>
<path d="M339.2 340.9 L368.7 340.9 L388.54 299.48 L412.3 340.9 L515.2 340.9 L515.2 419.8 L339.2 419.8 Z" fill="#fff" stroke="#ff82ad" stroke-width="2" stroke-linejoin="miter"/>
<text class="cb" y="359.5" x="353.7 361.58 369.46 377.34 386.72 392.17 401.55 407">2024/3/8</text>
<text class="cb" y="376.8" x="353.7 362.4 372.68 382.18 386.14 394.84 398.79 409.08 418.58 427.28 431.23 439.93 450.22 460.5 470">THE FIRST TAKEで</text>
<text class="cb" y="393.8" x="353.7 367.7 377.93 381.87 385.8 394.46 403.11 407.83 418.06 425.94 434.6 443.25 447.97 458.2 466.08 474.74 483.39">「Bling-Bang-Bang-</text>
<text class="cb" y="410.3" x="353.7 363.36 371.53 376.73 384.9 398.9 412.9">Born」歌唱</text>
<path d="M466.2 266 L624.9 266 L624.9 319.8 L466.2 319.8 L466.2 288 L453.81 270.23 L466.2 274.9 Z" fill="#fff" stroke="#ff82ad" stroke-width="2" stroke-linejoin="miter"/>
<text class="cb" y="289.4" x="481.5 489.38 497.26 505.14 514.52 519.97 529.35 534.8 542.68 550.56 564.56 573.94 579.39 587.27">2024/3/22～6/16</text>
<text class="cb" y="306.8" x="481.5 495.5 509.5 523.5 537.5 551.5 565.5 579.5 593.5">ワンマンツアー開催</text>
<path d="M439.4 79.8 L568.5 79.8 L568.5 130.4 L547.3 130.4 L509.53 154.97 L515.4 130.4 L439.4 130.4 Z" fill="none" stroke="#ff82ad" stroke-width="2" stroke-linejoin="miter"/>
<text class="cb" y="92.9" x="454.4 462.28 470.16 478.04 487.42 492.87 502.25 507.7">2024/4/1</text>
<text class="cb" y="110" x="454.4 468.4 478.63 488.86 497.52 506.97 520.97 534.97 548.97">『CDTVライブ!</text>
<text class="cb" y="126.8" x="454.4 468.4 482.4 496.4 501.12 515.12 529.12">ライブ!』出演</text>
<path d="M568.5 79.8 L745 79.8 L745 134.2 L643 134.2 L532.3 151.1 L599 134.2 L568.5 134.2 Z" fill="none" stroke="#ff82ad" stroke-width="2" stroke-linejoin="miter"/>
<text class="cb" y="94.4" x="584.5 592.38 600.26 608.14 617.52 622.97 632.35 637.8">2024/4/5</text>
<text class="cb" y="111.4" x="584.5 593.2 603.48 612.98 616.94 625.64 629.59 639.88 649.38 658.08 662.03 670.73 681.02 691.3 700.8">THE FIRST TAKEで</text>
<text class="cb" y="128.5" x="584.5 598.5 612.5 626.5 640.5 654.5 668.5 682.5">「ビリケン」歌唱</text>
<path d="M568.7 410.9 L699.1 410.9 L699.1 463 L677.4 463 L641.16 484.09 L645.2 463 L568.7 463 Z" fill="none" stroke="#ff82ad" stroke-width="2" stroke-linejoin="miter"/>
<text class="cb" y="424.8" x="584.6 592.48 600.36 608.24 617.62 623.07 632.45 637.9">2024/5/4</text>
<text class="cb" y="442" x="584.6 598.6 612.6 626.6 640.6 654.6 668.6">『ライブ・エー</text>
<text class="cb" y="458.8" x="584.6 598.6 602.54 610.42 618.3 626.18 634.05 648.05 662.05">ル 2024』出演</text>
<path d="M782 366 L922.2 366 L922.2 416.8 L898.5 416.8 L860.12 437.64 L863.5 416.8 L782 416.8 Z" fill="none" stroke="#ff82ad" stroke-width="2" stroke-linejoin="miter"/>
<text class="cb" y="378.9" x="797.5 805.38 813.26 821.14 830.52 835.97 845.35 850.8 858.68">2024/6/22</text>
<text class="cb" y="395.9" x="797.5 811.5 823.1 827.24 832.21 841.31 845.46 857.88 868.64 878.59 882.73 893.5">『with MUSIC』</text>
<text class="cb" y="413.2" x="797.5 811.5">出演</text>
<path d="M1204.1 410.9 L1377.9 410.9 L1377.9 493.6 L1349.7 493.6 L1345.1 508.11 L1305 493.6 L1204.1 493.6 Z" fill="none" stroke="#ff82ad" stroke-width="2" stroke-linejoin="miter"/>
<text class="cb" y="431.6" x="1218.7 1226.58 1234.46 1242.34 1251.72 1257.17 1265.05 1274.43 1279.88">2024/10/5</text>
<text class="cb" y="448.5" x="1218.7 1232.7 1236.64 1246.09 1253.97 1262.62 1271.27 1279.15 1287.03 1294.91">『 Venue101</text>
<text class="cb" y="465.3" x="1218.7 1228.15 1233.66 1241.54 1249.42 1257.3 1265.96 1270.68 1278.55 1282.49 1292.72 1298.24 1306.12 1314 1322.65">Presents Creepy</text>
<text class="cb" y="481.6" x="1218.7 1229.2 1238.08 1242.93 1251.01 1255.05 1263.94 1274.44 1284.14 1288.18 1297.06 1301.1 1310.8 1320.5 1334.5 1348.5">Nuts THE LIVE』放送</text>
<path d="M1235 514 L1378 514 L1378 583.9 L1354.2 583.9 L1338.56 607.24 L1319 583.9 L1235 583.9 Z" fill="none" stroke="#ffc250" stroke-width="2" stroke-linejoin="miter"/>
<text class="cb" y="536.3" x="1251 1258.88 1266.76 1274.64 1284.02 1289.47 1297.35 1306.73 1312.18">2024/10/4</text>
<text class="cb" y="553.8" x="1251 1265 1279 1293 1307 1321 1335 1349">配信シングル「オ</text>
<text class="cb" y="571" x="1251 1265 1279 1293 1307 1321 1335 1349">トノケ」リリース</text>
<path d="M1417.8 357.9 L1592.3 357.9 L1592.3 416.9 L1562.9 416.9 L1558.91 426.96 L1518.5 416.9 L1417.8 416.9 Z" fill="none" stroke="#ff82ad" stroke-width="2" stroke-linejoin="miter"/>
<text class="cb" y="375.6" x="1432.5 1440.38 1448.26 1456.14 1465.52 1470.97 1478.85 1488.23 1493.68 1501.56">2024/11/21</text>
<text class="cb" y="392.9" x="1432.5 1446.5 1460.5 1468.38 1476.26 1490.26 1504.26 1518.26 1532.26 1546.26 1560.26">『第75回紅白歌合戦』</text>
<text class="cb" y="409.8" x="1432.5 1446.5 1460.5 1474.5 1488.5 1502.5 1516.5 1530.5 1544.5">で紅白初出場が決定</text>
</g>
<g class="lg" font-size="18.9">
<rect x="121.1" y="59.1" width="37.8" height="10.6" fill="#c4c4c4"/><text x="163.4" y="69.8" textLength="34.95" lengthAdjust="spacingAndGlyphs">wiki</text>
<line x1="213.3" y1="64.3" x2="251.6" y2="64.3" stroke="#f4511e" stroke-width="3" stroke-linecap="round"/><circle cx="232.1" cy="64.3" r="5.7" fill="#f4511e"/><text x="255.65" y="69.8" textLength="66.7" lengthAdjust="spacingAndGlyphs">cdsales</text>
<line x1="336.7" y1="64.3" x2="375" y2="64.3" stroke="#808080" stroke-width="3" stroke-linecap="round"/><circle cx="355.5" cy="64.3" r="5.7" fill="#808080"/><text x="379.4" y="69.8" textLength="85.45" lengthAdjust="spacingAndGlyphs">download</text>
<line x1="480.4" y1="64.3" x2="518.7" y2="64.3" stroke="#fdbc05" stroke-width="3" stroke-linecap="round"/><circle cx="499.2" cy="64.3" r="5.7" fill="#fdbc05"/><text x="523.15" y="69.8" textLength="87.5" lengthAdjust="spacingAndGlyphs">streaming</text>
<line x1="625.2" y1="64.3" x2="663.5" y2="64.3" stroke="#62cfe9" stroke-width="3" stroke-linecap="round"/><circle cx="644" cy="64.3" r="5.7" fill="#62cfe9"/><text x="668.15" y="69.8" textLength="57.45" lengthAdjust="spacingAndGlyphs">twitter</text>
<line x1="740.2" y1="64.3" x2="778.5" y2="64.3" stroke="#8cf205" stroke-width="3" stroke-linecap="round"/><circle cx="759" cy="64.3" r="5.7" fill="#8cf205"/><text x="782.65" y="69.8" textLength="70.45" lengthAdjust="spacingAndGlyphs">youtube</text>
<line x1="868.4" y1="64.3" x2="906.7" y2="64.3" stroke="#2323c8" stroke-width="3" stroke-linecap="round"/><circle cx="887.2" cy="64.3" r="5.7" fill="#2323c8"/><text x="911.9" y="69.8" textLength="44.95" lengthAdjust="spacingAndGlyphs">radio</text>
<line x1="970.9" y1="64.3" x2="1009.2" y2="64.3" stroke="#660022" stroke-width="3" stroke-linecap="round"/><circle cx="989.7" cy="64.3" r="5.7" fill="#660022"/><text x="1013.9" y="69.8" textLength="59.2" lengthAdjust="spacingAndGlyphs">lookup</text>
<line x1="1087.2" y1="64.3" x2="1125.5" y2="64.3" stroke="#404040" stroke-width="3" stroke-linecap="round"/><circle cx="1106" cy="64.3" r="5.7" fill="#404040"/><text x="1130.15" y="69.8" textLength="69.2" lengthAdjust="spacingAndGlyphs">karaoke</text>
</g>
<g class="ax" font-size="18.2">
<text x="1661" y="103.7" textLength="56.3" lengthAdjust="spacingAndGlyphs">70,000</text>
<text x="1661" y="197.3" textLength="56.3" lengthAdjust="spacingAndGlyphs">60,000</text>
<text x="1661" y="290.9" textLength="56.3" lengthAdjust="spacingAndGlyphs">50,000</text>
<text x="1661" y="384.5" textLength="56.3" lengthAdjust="spacingAndGlyphs">40,000</text>
<text x="1661" y="478.1" textLength="56.3" lengthAdjust="spacingAndGlyphs">30,000</text>
<text x="1661" y="571.7" textLength="56.3" lengthAdjust="spacingAndGlyphs">20,000</text>
<text x="1661" y="665.3" textLength="56.3" lengthAdjust="spacingAndGlyphs">10,000</text>
<text x="1661" y="758.9" textLength="10.12" lengthAdjust="spacingAndGlyphs">0</text>
</g>
<text class="ax" x="19.3" y="44.8" font-size="16.5" textLength="21" lengthAdjust="spacingAndGlyphs" style="fill:#3c3c3c;stroke:#3c3c3c;stroke-width:0.55px">PT</text>
<text class="ax" x="1672.7" y="34.9" font-size="16.5" textLength="30.5" lengthAdjust="spacingAndGlyphs" style="fill:#3c3c3c;stroke:#3c3c3c;stroke-width:0.55px">wiki</text>
<text class="ax" x="1677.5" y="53.7" font-size="16.3" textLength="21.3" lengthAdjust="spacingAndGlyphs" style="fill:#3c3c3c;stroke:#3c3c3c;stroke-width:0.55px">PV</text>
<g class="xl" font-size="18.6" style="fill:#626262">
<text transform="translate(106.4,866.2) rotate(-90)" x="0 10.22 20.44 30.66 42.83 49.98 60.2 72.37 79.52 89.74" y="0">2024/01/01</text>
<text transform="translate(138.23,866.2) rotate(-90)" x="0 10.22 20.44 30.66 42.83 49.98 60.2 72.37 79.52 89.74" y="0">2024/01/08</text>
<text transform="translate(170.05,866.2) rotate(-90)" x="0 10.22 20.44 30.66 42.83 49.98 60.2 72.37 79.52 89.74" y="0">2024/01/15</text>
<text transform="translate(201.88,866.2) rotate(-90)" x="0 10.22 20.44 30.66 42.83 49.98 60.2 72.37 79.52 89.74" y="0">2024/01/22</text>
<text transform="translate(233.7,866.2) rotate(-90)" x="0 10.22 20.44 30.66 42.83 49.98 60.2 72.37 79.52 89.74" y="0">2024/01/29</text>
<text transform="translate(265.53,866.2) rotate(-90)" x="0 10.22 20.44 30.66 42.83 49.98 60.2 72.37 79.52 89.74" y="0">2024/02/05</text>
<text transform="translate(297.36,866.2) rotate(-90)" x="0 10.22 20.44 30.66 42.83 49.98 60.2 72.37 79.52 89.74" y="0">2024/02/12</text>
<text transform="translate(329.18,866.2) rotate(-90)" x="0 10.22 20.44 30.66 42.83 49.98 60.2 72.37 79.52 89.74" y="0">2024/02/19</text>
<text transform="translate(361.01,866.2) rotate(-90)" x="0 10.22 20.44 30.66 42.83 49.98 60.2 72.37 79.52 89.74" y="0">2024/02/26</text>
<text transform="translate(392.83,866.2) rotate(-90)" x="0 10.22 20.44 30.66 42.83 49.98 60.2 72.37 79.52 89.74" y="0">2024/03/04</text>
<text transform="translate(424.66,866.2) rotate(-90)" x="0 10.22 20.44 30.66 42.83 49.98 60.2 72.37 79.52 89.74" y="0">2024/03/11</text>
<text transform="translate(456.49,866.2) rotate(-90)" x="0 10.22 20.44 30.66 42.83 49.98 60.2 72.37 79.52 89.74" y="0">2024/03/18</text>
<text transform="translate(488.31,866.2) rotate(-90)" x="0 10.22 20.44 30.66 42.83 49.98 60.2 72.37 79.52 89.74" y="0">2024/03/25</text>
<text transform="translate(520.14,866.2) rotate(-90)" x="0 10.22 20.44 30.66 42.83 49.98 60.2 72.37 79.52 89.74" y="0">2024/04/01</text>
<text transform="translate(551.96,866.2) rotate(-90)" x="0 10.22 20.44 30.66 42.83 49.98 60.2 72.37 79.52 89.74" y="0">2024/04/08</text>
<text transform="translate(583.79,866.2) rotate(-90)" x="0 10.22 20.44 30.66 42.83 49.98 60.2 72.37 79.52 89.74" y="0">2024/04/15</text>
<text transform="translate(615.62,866.2) rotate(-90)" x="0 10.22 20.44 30.66 42.83 49.98 60.2 72.37 79.52 89.74" y="0">2024/04/22</text>
<text transform="translate(647.44,866.2) rotate(-90)" x="0 10.22 20.44 30.66 42.83 49.98 60.2 72.37 79.52 89.74" y="0">2024/04/29</text>
<text transform="translate(679.27,866.2) rotate(-90)" x="0 10.22 20.44 30.66 42.83 49.98 60.2 72.37 79.52 89.74" y="0">2024/05/06</text>
<text transform="translate(711.09,866.2) rotate(-90)" x="0 10.22 20.44 30.66 42.83 49.98 60.2 72.37 79.52 89.74" y="0">2024/05/13</text>
<text transform="translate(742.92,866.2) rotate(-90)" x="0 10.22 20.44 30.66 42.83 49.98 60.2 72.37 79.52 89.74" y="0">2024/05/20</text>
<text transform="translate(774.75,866.2) rotate(-90)" x="0 10.22 20.44 30.66 42.83 49.98 60.2 72.37 79.52 89.74" y="0">2024/05/27</text>
<text transform="translate(806.57,866.2) rotate(-90)" x="0 10.22 20.44 30.66 42.83 49.98 60.2 72.37 79.52 89.74" y="0">2024/06/03</text>
<text transform="translate(838.4,866.2) rotate(-90)" x="0 10.22 20.44 30.66 42.83 49.98 60.2 72.37 79.52 89.74" y="0">2024/06/10</text>
<text transform="translate(870.22,866.2) rotate(-90)" x="0 10.22 20.44 30.66 42.83 49.98 60.2 72.37 79.52 89.74" y="0">2024/06/17</text>
<text transform="translate(902.05,866.2) rotate(-90)" x="0 10.22 20.44 30.66 42.83 49.98 60.2 72.37 79.52 89.74" y="0">2024/06/24</text>
<text transform="translate(933.88,866.2) rotate(-90)" x="0 10.22 20.44 30.66 42.83 49.98 60.2 72.37 79.52 89.74" y="0">2024/07/01</text>
<text transform="translate(965.7,866.2) rotate(-90)" x="0 10.22 20.44 30.66 42.83 49.98 60.2 72.37 79.52 89.74" y="0">2024/07/08</text>
<text transform="translate(997.53,866.2) rotate(-90)" x="0 10.22 20.44 30.66 42.83 49.98 60.2 72.37 79.52 89.74" y="0">2024/07/15</text>
<text transform="translate(1029.35,866.2) rotate(-90)" x="0 10.22 20.44 30.66 42.83 49.98 60.2 72.37 79.52 89.74" y="0">2024/07/22</text>
<text transform="translate(1061.18,866.2) rotate(-90)" x="0 10.22 20.44 30.66 42.83 49.98 60.2 72.37 79.52 89.74" y="0">2024/07/29</text>
<text transform="translate(1093.01,866.2) rotate(-90)" x="0 10.22 20.44 30.66 42.83 49.98 60.2 72.37 79.52 89.74" y="0">2024/08/05</text>
<text transform="translate(1124.83,866.2) rotate(-90)" x="0 10.22 20.44 30.66 42.83 49.98 60.2 72.37 79.52 89.74" y="0">2024/08/12</text>
<text transform="translate(1156.66,866.2) rotate(-90)" x="0 10.22 20.44 30.66 42.83 49.98 60.2 72.37 79.52 89.74" y="0">2024/08/19</text>
<text transform="translate(1188.48,866.2) rotate(-90)" x="0 10.22 20.44 30.66 42.83 49.98 60.2 72.37 79.52 89.74" y="0">2024/08/26</text>
<text transform="translate(1220.31,866.2) rotate(-90)" x="0 10.22 20.44 30.66 42.83 49.98 60.2 72.37 79.52 89.74" y="0">2024/09/02</text>
<text transform="translate(1252.14,866.2) rotate(-90)" x="0 10.22 20.44 30.66 42.83 49.98 60.2 72.37 79.52 89.74" y="0">2024/09/09</text>
<text transform="translate(1283.96,866.2) rotate(-90)" x="0 10.22 20.44 30.66 42.83 49.98 60.2 72.37 79.52 89.74" y="0">2024/09/16</text>
<text transform="translate(1315.79,866.2) rotate(-90)" x="0 10.22 20.44 30.66 42.83 49.98 60.2 72.37 79.52 89.74" y="0">2024/09/23</text>
<text transform="translate(1347.61,866.2) rotate(-90)" x="0 10.22 20.44 30.66 42.83 49.98 60.2 72.37 79.52 89.74" y="0">2024/09/30</text>
<text transform="translate(1379.44,866.2) rotate(-90)" x="0 10.22 20.44 30.66 42.83 49.98 60.2 72.37 79.52 89.74" y="0">2024/10/07</text>
<text transform="translate(1411.27,866.2) rotate(-90)" x="0 10.22 20.44 30.66 42.83 49.98 60.2 72.37 79.52 89.74" y="0">2024/10/14</text>
<text transform="translate(1443.09,866.2) rotate(-90)" x="0 10.22 20.44 30.66 42.83 49.98 60.2 72.37 79.52 89.74" y="0">2024/10/21</text>
<text transform="translate(1474.92,866.2) rotate(-90)" x="0 10.22 20.44 30.66 42.83 49.98 60.2 72.37 79.52 89.74" y="0">2024/10/28</text>
<text transform="translate(1506.74,866.2) rotate(-90)" x="0 10.22 20.44 30.66 42.83 49.98 60.2 72.37 79.52 89.74" y="0">2024/11/04</text>
<text transform="translate(1538.57,866.2) rotate(-90)" x="0 10.22 20.44 30.66 42.83 49.98 60.2 72.37 79.52 89.74" y="0">2024/11/11</text>
<text transform="translate(1570.4,866.2) rotate(-90)" x="0 10.22 20.44 30.66 42.83 49.98 60.2 72.37 79.52 89.74" y="0">2024/11/18</text>
<text transform="translate(1602.22,866.2) rotate(-90)" x="0 10.22 20.44 30.66 42.83 49.98 60.2 72.37 79.52 89.74" y="0">2024/11/25</text>
<text transform="translate(1634.05,866.2) rotate(-90)" x="0 10.22 20.44 30.66 42.83 49.98 60.2 72.37 79.52 89.74" y="0">2024/12/02</text>
</g>
</svg>
</body></html>
